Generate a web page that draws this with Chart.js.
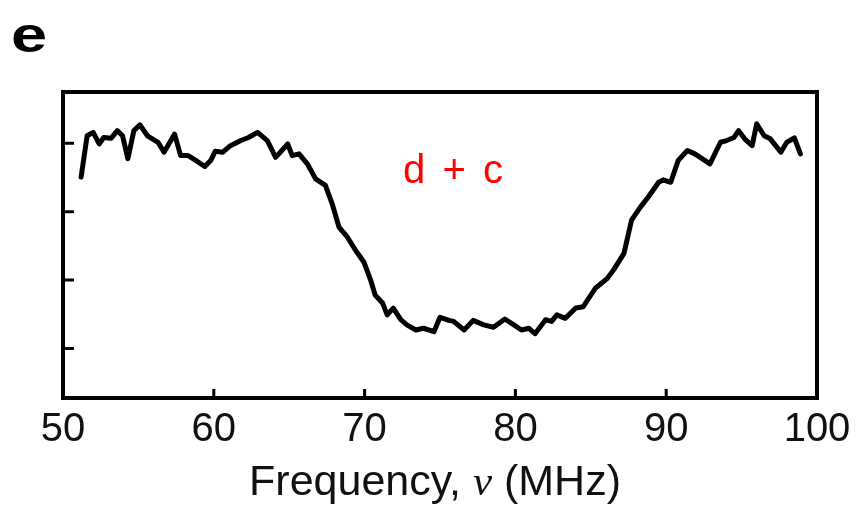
<!DOCTYPE html>
<html>
<head>
<meta charset="utf-8">
<script src="https://cdn.jsdelivr.net/npm/chart.js@4/dist/chart.umd.min.js"></script>
<style>
  html, body { margin: 0; padding: 0; background: #fff; }
  #wrap { width: 866px; height: 512px; position: relative; }
</style>
</head>
<body>
<div id="wrap"><canvas id="c" width="866" height="512"></canvas></div>
<script>
// Frequency (MHz) and residual temperature (K)
const freqMHz = [51.2, 51.6, 52.0, 52.4, 52.7, 53.2, 53.6, 53.95, 54.3, 54.7, 55.1, 55.6, 56.3, 56.7, 57.4, 57.8, 58.3, 58.8, 59.4, 59.8,
  60.1, 60.6, 61.1, 61.8, 62.3, 62.9, 63.55, 64.1, 64.9, 65.2, 65.65, 66.2, 66.75, 67.4, 67.85, 68.3, 68.85, 69.4, 69.95,
  70.4, 70.7, 71.2, 71.5, 71.9, 72.4, 72.8, 73.4, 73.9, 74.6, 75.0, 75.6, 75.9, 76.6, 77.2, 77.9, 78.55, 79.3, 79.9,
  80.4, 80.9, 81.3, 82.0, 82.4, 82.75, 83.3, 84.0, 84.5, 85.3, 86.1, 86.5, 87.2, 87.7, 88.3, 88.8, 89.5, 89.8,
  90.3, 90.8, 91.4, 91.9, 92.9, 93.6, 94.0, 94.5, 94.8, 95.2, 95.7, 96.0, 96.5, 96.9, 97.6, 98.0, 98.5, 98.9];
const residualK = [-0.099, 0.022, 0.032, -0.002, 0.017, 0.015, 0.037, 0.022, -0.045, 0.037, 0.054, 0.022, 0.003, -0.026, 0.027, -0.036, -0.036, -0.050, -0.068, -0.050,
  -0.023, -0.026, -0.007, 0.008, 0.017, 0.032, 0.008, -0.041, -0.002, -0.036, -0.031, -0.060, -0.104, -0.123, -0.177, -0.245, -0.274, -0.313, -0.347,
  -0.400, -0.444, -0.468, -0.502, -0.482, -0.516, -0.531, -0.546, -0.541, -0.551, -0.509, -0.518, -0.521, -0.546, -0.518, -0.531, -0.538, -0.514, -0.531,
  -0.546, -0.541, -0.557, -0.516, -0.521, -0.502, -0.512, -0.482, -0.478, -0.424, -0.395, -0.371, -0.322, -0.225, -0.186, -0.158, -0.114, -0.107,
  -0.114, -0.050, -0.021, -0.031, -0.060, 0.003, 0.008, 0.017, 0.037, 0.013, -0.007, 0.057, 0.022, 0.013, -0.026, 0.003, 0.016, -0.031];
const xTickValues = [50, 60, 70, 80, 90, 100];
const yTickValues = [0, -0.2, -0.4, -0.6];
const panelLabel = 'e';
const annotationText = 'd + c';
const annotationAt = [72.55, -0.117];
const xTitleParts = ['Frequency, ', 'ν', ' (MHz)'];

const points = freqMHz.map((f, i) => ({ x: f, y: residualK[i] }));

const framePlugin = {
  id: 'frame',
  afterDatasetsDraw(chart) {
    const { ctx, chartArea: a, scales } = chart;
    const xs = scales.x, ys = scales.y;
    ctx.save();
    // frame
    ctx.strokeStyle = '#000';
    ctx.lineWidth = 4;
    ctx.strokeRect(a.left, a.top, a.right - a.left, a.bottom - a.top);
    // inward ticks
    ctx.lineWidth = 3;
    ctx.beginPath();
    yTickValues.forEach(v => {
      const py = ys.getPixelForValue(v);
      ctx.moveTo(a.left, py); ctx.lineTo(a.left + 11, py);
    });
    xTickValues.forEach(v => {
      if (v === xs.min || v === xs.max) return;
      const px = xs.getPixelForValue(v);
      ctx.moveTo(px, a.bottom); ctx.lineTo(px, a.bottom - 9);
    });
    ctx.stroke();
    // annotation
    ctx.fillStyle = '#ff0000';
    ctx.font = '40px "Liberation Sans", Arial, sans-serif';
    ctx.textBaseline = 'alphabetic';
    ctx.textAlign = 'left';
    try { ctx.letterSpacing = '3px'; } catch (e) {}
    ctx.fillText(annotationText, xs.getPixelForValue(annotationAt[0]), ys.getPixelForValue(annotationAt[1]));
    try { ctx.letterSpacing = '0px'; } catch (e) {}
    // panel label
    ctx.fillStyle = '#000';
    ctx.save();
    ctx.translate(11, 52);
    ctx.scale(1.3, 1);
    ctx.font = 'bold 50px "Liberation Sans", Arial, sans-serif';
    ctx.fillText(panelLabel, 0, 0);
    ctx.restore();
    // x title with italic nu
    const fonts = ['43px "Liberation Sans", Arial, sans-serif', 'italic 43px "Liberation Serif", "Times New Roman", serif', '43px "Liberation Sans", Arial, sans-serif'];
    let widths = xTitleParts.map((t, i) => { ctx.font = fonts[i]; return ctx.measureText(t).width; });
    const total = widths.reduce((s, w) => s + w, 0);
    let x = (a.left + a.right) / 2 - 5 - total / 2;
    ctx.fillStyle = '#111';
    xTitleParts.forEach((t, i) => { ctx.font = fonts[i]; ctx.fillText(t, x, 495); x += widths[i]; });
    ctx.restore();
  }
};

new Chart(document.getElementById('c'), {
  type: 'line',
  data: {
    datasets: [{
      data: points,
      borderColor: '#000',
      borderWidth: 5,
      pointRadius: 0,
      tension: 0,
      fill: false,
      borderJoinStyle: 'round',
      borderCapStyle: 'round'
    }]
  },
  options: {
    responsive: false,
    animation: false,
    devicePixelRatio: 1,
    layout: { padding: { top: 92, right: 49, bottom: 0, left: 0 } },
    plugins: { legend: { display: false }, tooltip: { enabled: false } },
    scales: {
      x: {
        type: 'linear', min: 50, max: 100,
        afterBuildTicks: s => { s.ticks = xTickValues.map(v => ({ value: v })); },
        ticks: { color: '#111', font: { family: '"Liberation Sans", Arial, sans-serif', size: 40 }, padding: 8, maxRotation: 0 },
        grid: { display: false, drawTicks: false },
        border: { display: false },
        afterFit: s => { s.height = 114; }
      },
      y: {
        type: 'linear', min: -0.745, max: 0.15,
        ticks: { display: false },
        grid: { display: false, drawTicks: false },
        border: { display: false },
        afterFit: s => { s.width = 63; }
      }
    }
  },
  plugins: [framePlugin]
});
</script>
</body>
</html>
